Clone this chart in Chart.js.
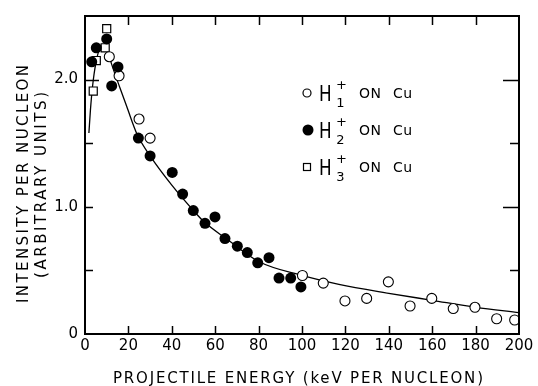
<!DOCTYPE html>
<html><head><meta charset="utf-8">
<script src="https://cdn.jsdelivr.net/npm/chart.js@4"></script>
<style>html,body{margin:0;padding:0;background:#fff;}#wrap{width:538px;height:386px;}</style>
</head><body><div id="wrap"><canvas id="c" width="538" height="386"></canvas></div>
<script>
// ---- data ----
const xTickValues = [0, 20, 40, 60, 80, 100, 120, 140, 160, 180, 200];
const xTickLabels = ['0', '20', '40', '60', '80', '100', '120', '140', '160', '180', '200'];
const yTickValues = [0, 0.5, 1, 1.5, 2, 2.5];
const yLabelValues = [0, 1, 2];
const yLabelTexts = ['0', '1.0', '2.0'];

const h1Energy    = [11.2, 15.7, 24.9, 30, 100.2, 109.8, 119.8, 129.8, 139.8, 149.8, 159.8, 169.7, 179.7, 189.7, 198];
const h1Intensity = [2.18, 2.03, 1.69, 1.54, 0.46, 0.40, 0.26, 0.28, 0.41, 0.22, 0.28, 0.20, 0.21, 0.12, 0.11];

const h2Energy    = [3.1, 5.2, 10, 12.3, 15.2, 24.6, 30, 40.2, 45, 49.9, 55.3, 59.9, 64.5, 70.2, 74.8, 79.6, 84.8, 89.4, 94.8, 99.5];
const h2Intensity = [2.14, 2.25, 2.32, 1.95, 2.10, 1.54, 1.40, 1.27, 1.10, 0.97, 0.87, 0.92, 0.75, 0.69, 0.64, 0.56, 0.60, 0.44, 0.44, 0.37];

const h3Energy    = [10, 9.3, 5.2, 3.8];
const h3Intensity = [2.40, 2.25, 2.15, 1.91];

const curveEnergy    = [1.8, 2.5, 3.5, 5, 7, 9, 10.5, 12.3, 16, 19.2, 24, 30, 40, 50, 55, 65, 80, 100, 117, 140, 160, 180, 200];
const curveIntensity = [1.58, 1.76, 1.95, 2.13, 2.25, 2.27, 2.22, 2.12, 1.94, 1.79, 1.57, 1.40, 1.17, 0.97, 0.88, 0.75, 0.57, 0.46, 0.39, 0.32, 0.265, 0.21, 0.168];

const legendSubs = ['1', '2', '3'];

const xTitle = 'PROJECTILE ENERGY (keV PER NUCLEON)';
const yTitle = ['INTENSITY PER NUCLEON', '(ARBITRARY UNITS)'];

// ---- helpers ----
const pts = (xs, ys) => xs.map((x, i) => ({x, y: ys[i]}));
const FAM = "'DejaVu Sans', sans-serif";
const WT = 'normal';

function spacedText(ctx, text, cx, cy, width) {
  ctx.letterSpacing = '0px';
  const w = ctx.measureText(text).width;
  const ls = (width - w) / (text.length - 1);
  ctx.letterSpacing = ls + 'px';
  ctx.textAlign = 'left';
  ctx.fillText(text, cx - width / 2, cy);
  ctx.letterSpacing = '0px';
}

const framePlugin = {
  id: 'framePlugin',
  afterDatasetsDraw(chart) {
    const {ctx, chartArea: a, scales: {x, y}} = chart;
    ctx.save();
    ctx.strokeStyle = '#000';
    ctx.lineWidth = 2;
    ctx.strokeRect(a.left, a.top, a.right - a.left, a.bottom - a.top);
    ctx.lineWidth = 1.5;
    ctx.beginPath();
    xTickValues.forEach(v => {
      if (v === 0 || v === 200) return;
      const px = Math.round(x.getPixelForValue(v)) + 0.5;
      ctx.moveTo(px, a.bottom); ctx.lineTo(px, a.bottom - 8);
      ctx.moveTo(px, a.top); ctx.lineTo(px, a.top + 9);
    });
    yTickValues.forEach(v => {
      if (v === 0 || v === 2.5) return;
      const py = Math.round(y.getPixelForValue(v)) + 0.5;
      const major = (v === 1 || v === 2);
      ctx.moveTo(a.left, py); ctx.lineTo(a.left + (v === 2 ? 14 : 8), py);
      ctx.moveTo(a.right, py); ctx.lineTo(a.right - (major ? 16 : 9), py);
    });
    ctx.stroke();
    ctx.restore();
  },
  afterDraw(chart) {
    const {ctx} = chart;
    ctx.save();
    ctx.fillStyle = '#000';
    ctx.strokeStyle = '#000';
    ctx.textBaseline = 'middle';
    // axis titles
    ctx.font = `${WT} 15px ${FAM}`;
    spacedText(ctx, xTitle, 298, 379, 370);
    ctx.save();
    ctx.translate(24, 184);
    ctx.rotate(-Math.PI / 2);
    spacedText(ctx, yTitle[0], 0, 0, 238);
    ctx.restore();
    ctx.save();
    ctx.translate(42, 185);
    ctx.rotate(-Math.PI / 2);
    spacedText(ctx, yTitle[1], 0, 0, 186);
    ctx.restore();

    // legend
    const rows = [93, 130, 167];
    rows.forEach((cy, i) => {
      ctx.lineWidth = 1.2;
      if (i === 0) {
        ctx.beginPath(); ctx.arc(307, cy, 4, 0, Math.PI * 2); ctx.stroke();
      } else if (i === 1) {
        ctx.beginPath(); ctx.arc(308, cy, 5.5, 0, Math.PI * 2); ctx.fill();
      } else {
        ctx.strokeRect(303.5, cy - 3.5, 7, 7);
      }
      ctx.textBaseline = 'alphabetic';
      ctx.textAlign = 'left';
      ctx.save();
      ctx.translate(319, cy + 7.5);
      ctx.scale(0.8, 1);
      ctx.font = `normal 21px ${FAM}`;
      ctx.fillText('H', 0, 0);
      ctx.restore();
      ctx.textAlign = 'center';
      ctx.font = `${WT} 13px ${FAM}`;
      ctx.fillText('+', 341.5, cy - 4);
      ctx.fillText(legendSubs[i], 340.5, cy + 14);
      ctx.textAlign = 'left';
      ctx.font = `${WT} 14px ${FAM}`;
      ctx.letterSpacing = '0.5px';
      ctx.fillText('ON', 359, cy + 5);
      ctx.fillText('Cu', 393, cy + 5);
      ctx.letterSpacing = '0px';
    });
    ctx.restore();
  }
};

new Chart(document.getElementById('c'), {
  type: 'scatter',
  data: {
    datasets: [
      {
        label: 'fit',
        data: pts(curveEnergy, curveIntensity),
        showLine: true,
        pointRadius: 0,
        borderColor: '#000',
        borderWidth: 1.3,
        cubicInterpolationMode: 'monotone',
        clip: 0,
        order: 4
      },
      {
        label: 'H3+ ON Cu',
        data: pts(h3Energy, h3Intensity),
        pointStyle: 'rect',
        pointRadius: 5.7,
        backgroundColor: '#fff',
        borderColor: '#000',
        borderWidth: 1.2,
        order: 3
      },
      {
        label: 'H1+ ON Cu',
        data: pts(h1Energy, h1Intensity),
        pointStyle: 'circle',
        pointRadius: 5,
        backgroundColor: '#fff',
        borderColor: '#000',
        borderWidth: 1.1,
        clip: 0,
        order: 2
      },
      {
        label: 'H2+ ON Cu',
        data: pts(h2Energy, h2Intensity),
        pointStyle: 'circle',
        pointRadius: 5.5,
        backgroundColor: '#000',
        borderColor: '#000',
        borderWidth: 0,
        order: 1
      }
    ]
  },
  options: {
    responsive: false,
    animation: false,
    devicePixelRatio: 1,
    layout: {padding: {left: 0, right: 19, top: 12, bottom: 0}},
    plugins: {legend: {display: false}, tooltip: {enabled: false}},
    scales: {
      x: {
        type: 'linear', min: 0, max: 200,
        afterBuildTicks: s => { s.ticks = xTickValues.map(v => ({value: v})); },
        afterFit: s => { s.height = 52; },
        grid: {display: false, drawTicks: false},
        border: {display: false},
        ticks: {
          color: '#000', padding: 3, maxRotation: 0, autoSkip: false,
          font: {family: FAM, size: 15, weight: WT},
          callback: v => { const i = xTickValues.indexOf(v); return i >= 0 ? xTickLabels[i] : ''; }
        }
      },
      y: {
        type: 'linear', min: 0, max: 2.5,
        afterBuildTicks: s => { s.ticks = yTickValues.map(v => ({value: v})); },
        afterFit: s => { s.width = 85; },
        grid: {display: false, drawTicks: false},
        border: {display: false},
        ticks: {
          color: '#000', padding: 7, autoSkip: false,
          font: {family: FAM, size: 15, weight: WT},
          callback: v => { const i = yLabelValues.indexOf(v); return i >= 0 ? yLabelTexts[i] : ''; }
        }
      }
    }
  },
  plugins: [framePlugin]
});
</script>
</body></html>
